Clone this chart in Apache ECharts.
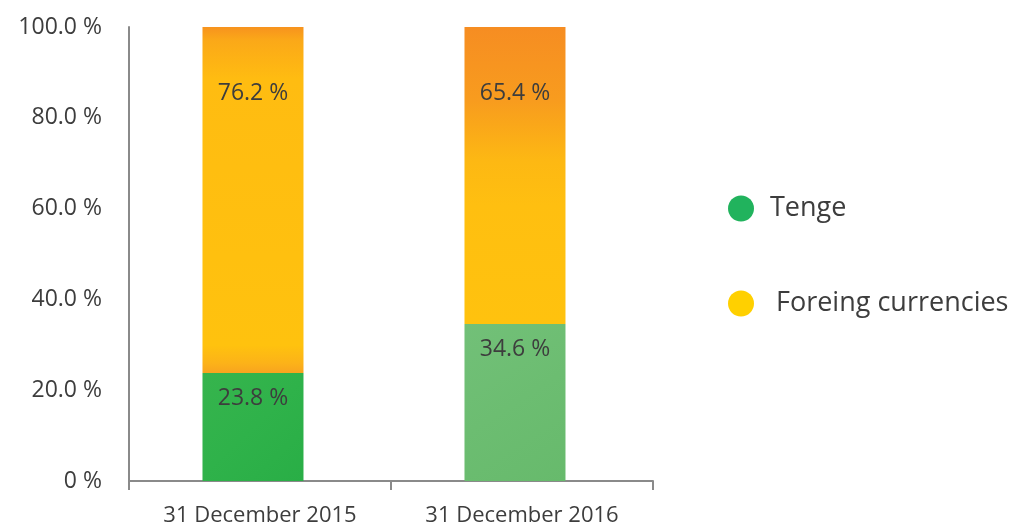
<!DOCTYPE html>
<html>
<head>
<meta charset="utf-8">
<script src="https://cdn.jsdelivr.net/npm/echarts@6/dist/echarts.min.js"></script>
<style>
  html, body { margin: 0; padding: 0; background: #ffffff; }
  #chart { width: 1014px; height: 527px; }
</style>
</head>
<body>
<div id="chart"></div>
<script>
// Currency structure at year end, in percent
const categories = ['31 December 2015', '31 December 2016'];
const tengeShare = [23.8, 34.6];
const foreignShare = [76.2, 65.4];
const yTickLabels = ['0 %', '20.0 %', '40.0 %', '60.0 %', '80.0 %', '100.0 %'];

const FONT = 'Open Sans';

// Per-bar fills: painted look with orange tint at the top of the foreign segment
const tengeFills = [
  new echarts.graphic.LinearGradient(0, 0, 1, 1, [
    { offset: 0, color: '#36b44d' }, { offset: 0.5, color: '#2fb24a' }, { offset: 1, color: '#29ae46' }
  ]),
  new echarts.graphic.LinearGradient(0, 0, 1, 1, [
    { offset: 0, color: '#72c078' }, { offset: 0.5, color: '#6cbd71' }, { offset: 1, color: '#67ba6c' }
  ])
];
const foreignFills = [
  new echarts.graphic.LinearGradient(0, 0, 0, 1, [
    { offset: 0, color: '#f7931e' }, { offset: 0.04, color: '#fba918' }, { offset: 0.15, color: '#ffbc11' },
    { offset: 0.92, color: '#ffc20e' }, { offset: 0.97, color: '#fcb318' }, { offset: 1, color: '#f8a41f' }
  ]),
  new echarts.graphic.LinearGradient(0, 0, 0, 1, [
    { offset: 0, color: '#f68d22' }, { offset: 0.25, color: '#f89c1e' }, { offset: 0.45, color: '#fdb813' },
    { offset: 0.6, color: '#ffbf10' }, { offset: 1, color: '#ffc20e' }
  ])
];

const labelStyle = {
  show: true,
  position: 'insideTop',
  color: '#3d3d3d',
  fontFamily: FONT,
  fontSize: 23,
  formatter: p => p.value.toFixed(1) + ' %'
};

const chart = echarts.init(document.getElementById('chart'), null, { renderer: 'canvas' });
chart.setOption({
  animation: false,
  backgroundColor: '#ffffff',
  grid: { left: 129, right: 361, top: 27, bottom: 44 },
  legend: {
    orient: 'vertical',
    left: 723,
    top: 190,
    itemGap: 68,
    itemWidth: 26,
    itemHeight: 26,
    icon: 'circle',
    textStyle: { fontFamily: FONT, fontSize: 27, lineHeight: 26, color: '#3d3d3d', padding: [0, 0, 0, 11] },
    data: [
      { name: 'Tenge', itemStyle: { color: '#21b35d' } },
      { name: 'Foreing currencies', itemStyle: { color: '#ffd000' }, textStyle: { padding: [0, 0, 0, 17] } }
    ]
  },
  xAxis: {
    type: 'category',
    data: categories,
    axisLine: { show: true, lineStyle: { color: '#8a8a8a', width: 2 } },
    axisTick: { show: true, length: 9, lineStyle: { color: '#8a8a8a', width: 2 } },
    axisLabel: { color: '#3d3d3d', fontFamily: FONT, fontSize: 22, margin: 24 }
  },
  yAxis: {
    type: 'value',
    min: 0,
    max: 100,
    interval: 20,
    axisLine: { show: true, lineStyle: { color: '#8a8a8a', width: 2 } },
    axisTick: { show: false },
    splitLine: { show: false },
    axisLabel: {
      color: '#3d3d3d', fontFamily: FONT, fontSize: 23, margin: 27,
      formatter: v => yTickLabels[Math.round(v / 20)]
    }
  },
  series: [
    {
      name: 'Tenge',
      type: 'bar',
      stack: 'total',
      barWidth: 101,
      barGap: '12.9%',
      data: tengeShare.map((v, i) => ({ value: v, itemStyle: { color: tengeFills[i] } })),
      label: Object.assign({}, labelStyle, { distance: 14 })
    },
    {
      name: 'Foreing currencies',
      type: 'bar',
      stack: 'total',
      barWidth: 101,
      barGap: '12.9%',
      data: foreignShare.map((v, i) => ({ value: v, itemStyle: { color: foreignFills[i] } })),
      label: Object.assign({}, labelStyle, { distance: 55 })
    },
    {
      // empty spacer slot: nudges the stacked columns a little left of the category centre
      name: 'spacer',
      type: 'bar',
      barWidth: 1,
      barGap: '12.9%',
      data: [],
      silent: true
    }
  ]
});
</script>
</body>
</html>
